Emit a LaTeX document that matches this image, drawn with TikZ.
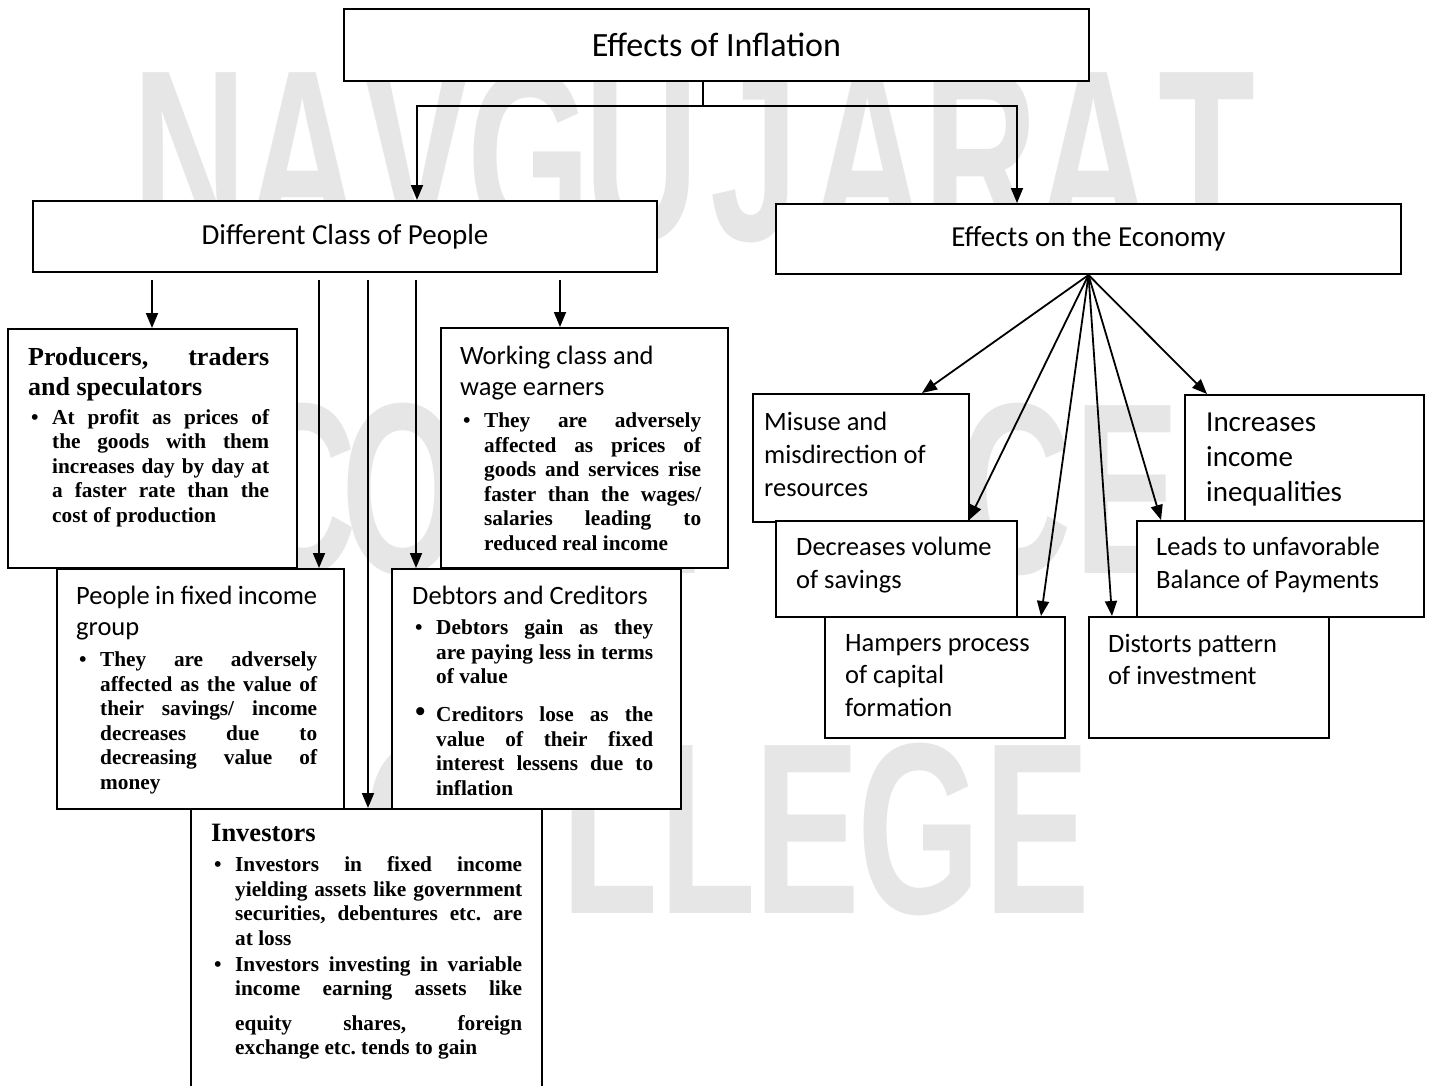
\documentclass[tikz,border=0pt]{standalone}
\usepackage{fontspec}
\usepackage{graphicx}
\usepackage{tikz}
\usetikzlibrary{arrows.meta}

\setmainfont{Liberation Serif}
\newfontfamily\calfont{Carlito}
\newfontfamily\markfont{Liberation Sans}

\definecolor{markgray}{RGB}{230,230,230}

\setlength{\parindent}{0pt}
\frenchspacing
\tolerance=10000
\hyphenpenalty=10000
\hbadness=10000

\newcommand\boldtitle{\bfseries\fontsize{26}{30}\selectfont}
\newcommand\caltitle{\calfont\fontsize{26.5}{31}\selectfont}
\newcommand\pointfont{\bfseries\fontsize{21.3}{24.5}\selectfont}
\newcommand\bul[2][\textbullet]{\hangindent=24pt\hangafter=1\noindent\makebox[24pt][l]{\hspace{3pt}#1}#2\par}

\tikzset{
  box/.style={draw, line width=2pt, fill=white, inner sep=0pt, anchor=north west},
  txt/.style={anchor=north west, inner sep=0pt, align=justify, text width=#1},
  lbl/.style={anchor=north west, inner sep=0pt, align=left, font=\calfont\fontsize{26.5}{33}\selectfont},
  arr/.style={line width=1.8pt, -{Triangle[length=15pt,width=12pt]}},
  wmletter/.style={anchor=base, inner sep=0pt, text=markgray, font=\markfont\bfseries\fontsize{244}{244}\selectfont}
}

\begin{document}
\begin{tikzpicture}[x=1pt, y=-1pt]
  \useasboundingbox (0,0) rectangle (1429,1085);
  \clip (0,0) rectangle (1429,1085);

  % watermark
  \foreach \l [count=\i from 0] in {N,A,V,G,U,J,A,R,A,T}
    \node[wmletter] (wa\i) at (190+113*\i,240) {\scalebox{0.65}[1]{\l}};
  \foreach \l/\x [count=\i] in {C/300,O/403,M/520,M/640,E/820,R/920,C/1015,E/1127}
    \node[wmletter] (wb\i) at (\x,573) {\scalebox{0.65}[1]{\l}};
  \foreach \l/\x [count=\i] in {C/420,O/478,L/610,L/708,E/807,G/919,E/1037}
    \node[wmletter] (wc\i) at (\x,913) {\scalebox{0.65}[1]{\l}};

  % top levels
  \node[box, minimum width=745, minimum height=72, font=\calfont\fontsize{34}{40}\selectfont] (top) at (343,8) {Effects of Inflation};
  \node[box, minimum width=624, minimum height=71, font=\calfont\fontsize{29}{35}\selectfont] (cls) at (32,200) {Different Class of People};
  \node[box, minimum width=625, minimum height=70, font=\calfont\fontsize{29}{35}\selectfont] (eco) at (775,203) {Effects on the Economy};

  % classes of people
  \node[box, minimum width=289, minimum height=239] (prod) at (7,328) {};
  \node[txt=241] (prodt) at (28,347) {{\boldtitle Producers, traders\linebreak and speculators\par}\vspace{4.5pt}\pointfont
    \bul{At profit as prices of\linebreak the goods with them\linebreak increases day by day at\linebreak a faster rate than the\linebreak cost of production}};

  \node[box, minimum width=287, minimum height=240] (work) at (440,327) {};
  \node[txt=241] (workt) at (460,346) {{\caltitle Working class and\newline wage earners\par}\vspace{7.5pt}\pointfont
    \bul{They are adversely\linebreak affected as prices of\linebreak goods and services rise\linebreak faster than the wages/\linebreak salaries leading to\linebreak reduced real income}};

  \node[box, minimum width=287, minimum height=240] (fix) at (56,568) {};
  \node[txt=241] (fixt) at (76,586) {{\caltitle People in fixed income\newline group\par}\vspace{6.5pt}\pointfont
    \bul{They are adversely\linebreak affected as the value of\linebreak their savings/ income\linebreak decreases due to\linebreak decreasing value of\linebreak money}};

  \node[box, minimum width=289, minimum height=240] (debt) at (391,568) {};
  \node[txt=241] (debtt) at (412,586) {{\caltitle Debtors and Creditors\par}\vspace{5.5pt}\pointfont
    \bul{Debtors gain as they\linebreak are paying less in terms\linebreak of value}\vspace{13.5pt}
    \bul[\scalebox{1.4}{\textbullet}]{Creditors lose as the\linebreak value of their fixed\linebreak interest lessens due to\linebreak inflation}};

  \node[box, minimum width=351, minimum height=300] (inv) at (190,808) {};
  \node[txt=311] (invt) at (211,824) {{\bfseries\fontsize{26.5}{30}\selectfont Investors\par}\vspace{5.5pt}\pointfont
    \bul{Investors in fixed income\linebreak yielding assets like government\linebreak securities, debentures etc. are\linebreak at loss}\vspace{1.5pt}
    \bul{Investors investing in variable\linebreak income earning assets like\linebreak \rule{0pt}{29pt}equity shares, foreign\linebreak exchange etc. tends to gain}};

  % effects on the economy
  \node[box, minimum width=216, minimum height=128] (mis) at (752,393) {};
  \node[lbl] (mist) at (764,412) {Misuse and\\misdirection of\\resources};
  \node[box, minimum width=239, minimum height=126] (inc) at (1184,394) {};
  \node[lbl, font=\calfont\fontsize{29}{35}\selectfont] (inct) at (1206,413) {Increases\\income\\inequalities};
  \node[box, minimum width=241, minimum height=96] (dec) at (775,520) {};
  \node[lbl] (dect) at (796,537) {Decreases volume\\of savings};
  \node[box, minimum width=287, minimum height=96] (lea) at (1136,520) {};
  \node[lbl] (leat) at (1156,537) {Leads to unfavorable\\Balance of Payments};
  \node[box, minimum width=240, minimum height=121] (ham) at (824,616) {};
  \node[lbl, font=\calfont\fontsize{26.5}{32.5}\selectfont] (hamt) at (845,634) {Hampers process\\of capital\\formation};
  \node[box, minimum width=240, minimum height=121] (dis) at (1088,616) {};
  \node[lbl, font=\calfont\fontsize{26.5}{32.5}\selectfont] (dist) at (1108,634) {Distorts pattern\\of investment};

  % connectors
  \coordinate (split) at (703,106);
  \draw[line width=1.8pt] (top.south -| split) -- (split);
  \draw[arr] (split) -| ([xshift=72pt]cls.north);
  \draw[arr] (split) -| ([xshift=-71.5pt]eco.north);

  \foreach \x/\t in {152/prod, 319/fix, 368/inv, 416/debt, 560/work}{
    \coordinate (from\t) at (\x,280);
    \draw[arr] (from\t) -- (from\t |- \t.north);
  }

  \foreach \t/\d in {mis/61, dec/72.5, ham/96, dis/-97, lea/-119.5, inc/-97.5}
    \draw[arr] (eco.south) -- ([xshift=\d pt]\t.north);
\end{tikzpicture}
\end{document}
